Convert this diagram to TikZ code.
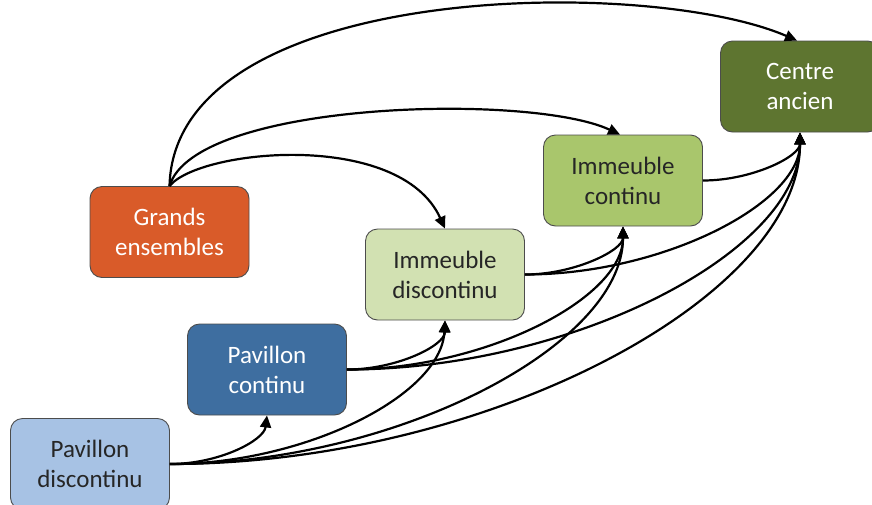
\documentclass[tikz,border=0pt]{standalone}
\usepackage{fontspec}
\setmainfont{Carlito}
\usetikzlibrary{arrows.meta}
\definecolor{cGE}{HTML}{D95B29}
\definecolor{cPD}{HTML}{A7C2E4}
\definecolor{cPC}{HTML}{3E6EA0}
\definecolor{cID}{HTML}{D2E1B2}
\definecolor{cIC}{HTML}{A9C66C}
\definecolor{cCA}{HTML}{5E7530}
\tikzset{
  box/.style={draw=black!70, line width=0.9pt, rounded corners=12pt,
    minimum width=159pt, minimum height=91pt, align=center,
    font=\fontsize{25}{30}\selectfont, inner sep=2pt},
  conn/.style={line width=2.2pt, -{Triangle[length=12pt,width=11pt]}},
}
\begin{document}
\begin{tikzpicture}[x=1pt,y=-1pt]
\useasboundingbox (0,0) rectangle (872,504);
\node[box, fill=cGE, text=white] (GE) at (169.5,232) {Grands\\ensembles};
\node[box, fill=cPD, text=black!85] (PD) at (90,464) {Pavillon\\discontinu};
\node[box, fill=cPC, text=white] (PC) at (267,369.5) {Pavillon\\continu};
\node[box, fill=cID, text=black!85] (ID) at (445,274.5) {Immeuble\\discontinu};
\node[box, fill=cIC, text=black!85] (IC) at (623,180.5) {Immeuble\\continu};
\node[box, fill=cCA, text=white] (CA) at (800,86.5) {Centre\\ancien};

% from Grands ensembles
\draw[conn] (GE.north) .. controls +(5,-205) and +(-150,-65) .. ([xshift=-3pt]CA.north);
\draw[conn] (GE.north) .. controls +(25,-85) and +(-90,-42) .. ([xshift=-3pt]IC.north);
\draw[conn] (GE.north) .. controls +(30,-37) and +(-45,-99) .. (ID.north);

% from Pavillon discontinu
\draw[conn] (PD.east) .. controls +(49,0) and +(-3,25) .. (PC.south);
\draw[conn] (PD.east) .. controls +(135,0) and +(-4,75) .. (ID.south);
\draw[conn] (PD.east) .. controls +(226,0) and +(0,119) .. (IC.south);
\draw[conn] (PD.east) .. controls +(315,0) and +(0,166) .. (CA.south);

% from Pavillon continu
\draw[conn] (PC.east) .. controls +(50,0) and +(0,25) .. (ID.south);
\draw[conn] (PC.east) .. controls +(138,0) and +(0,72) .. (IC.south);
\draw[conn] (PC.east) .. controls +(226,0) and +(0,119) .. (CA.south);

% from Immeuble discontinu
\draw[conn] (ID.east) .. controls +(49,0) and +(0,24) .. (IC.south);
\draw[conn] (ID.east) .. controls +(138,0) and +(0,71) .. (CA.south);

% from Immeuble continu
\draw[conn] (IC.east) .. controls +(49,0) and +(0,24) .. (CA.south);
\end{tikzpicture}
\end{document}
